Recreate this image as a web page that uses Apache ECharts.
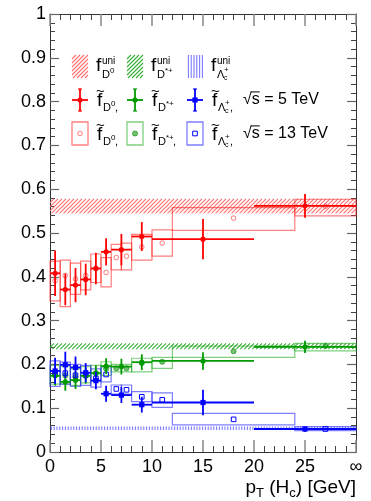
<!DOCTYPE html>
<html><head><meta charset="utf-8">
<script src="https://cdn.jsdelivr.net/npm/echarts@6/dist/echarts.min.js"></script>
<style>html,body{margin:0;padding:0;background:#fff}#c{width:371px;height:501px}</style>
</head><body><div id="c"></div>
<script>
// pT binning in GeV; the open last bin (to infinity) is drawn up to 30
const bins5Lo = [0, 1, 2, 3, 4, 5, 6, 8, 10, 20];
const bins5Hi = [1, 2, 3, 4, 5, 6, 8, 10, 20, 30];
const pt5 = [0.5, 1.5, 2.5, 3.5, 4.5, 5.5, 7, 9, 15, 25];
const bins13Lo = [0, 1, 2, 3, 4, 5, 6, 7, 8, 10, 12, 24];
const bins13Hi = [1, 2, 3, 4, 5, 6, 7, 8, 10, 12, 24, 30];
const pt13 = [0.5, 1.5, 2.5, 3.5, 4.5, 5.5, 6.5, 7.5, 9, 11, 18, 27];

// sqrt(s) = 5 TeV fractions with total uncertainties
const d0At5 = [0.408, 0.371, 0.381, 0.394, 0.419, 0.457, 0.462, 0.492, 0.486, 0.562];
const d0At5Err = [0.052, 0.036, 0.039, 0.036, 0.036, 0.031, 0.036, 0.033, 0.046, 0.027];
const dstAt5 = [0.174, 0.160, 0.164, 0.174, 0.180, 0.196, 0.195, 0.205, 0.208, 0.240];
const dstAt5Err = [0.022, 0.020, 0.020, 0.018, 0.018, 0.018, 0.018, 0.018, 0.020, 0.014];
const lcAt5 = [0.185, 0.199, 0.193, 0.181, 0.163, 0.133, 0.130, 0.108, 0.113, 0.0525];
const lcAt5Err = [0.030, 0.030, 0.025, 0.022, 0.020, 0.018, 0.018, 0.018, 0.029, 0.006];

// sqrt(s) = 13 TeV fractions, boxes give the uncertainty range
const d0At13 = [0.391, 0.403, 0.395, 0.403, 0.420, 0.410, 0.444, 0.447, 0.468, 0.477, 0.534, 0.561];
const d0At13Lo = [0.345, 0.332, 0.360, 0.370, 0.387, 0.377, 0.416, 0.416, 0.438, 0.447, 0.506, 0.539];
const d0At13Hi = [0.436, 0.438, 0.431, 0.436, 0.452, 0.444, 0.474, 0.477, 0.497, 0.507, 0.558, 0.577];
const dstAt13 = [0.176, 0.175, 0.171, 0.176, 0.180, 0.190, 0.191, 0.191, 0.203, 0.206, 0.230, 0.242];
const dstAt13Lo = [0.155, 0.155, 0.152, 0.158, 0.163, 0.175, 0.183, 0.183, 0.183, 0.191, 0.216, 0.231];
const dstAt13Hi = [0.198, 0.196, 0.190, 0.195, 0.198, 0.206, 0.200, 0.200, 0.214, 0.216, 0.242, 0.248];
const lcAt13 = [0.178, 0.180, 0.175, 0.175, 0.168, 0.177, 0.144, 0.142, 0.126, 0.119, 0.0746, 0.0525];
const lcAt13Lo = [0.150, 0.155, 0.150, 0.152, 0.148, 0.160, 0.132, 0.132, 0.115, 0.102, 0.062, 0.049];
const lcAt13Hi = [0.208, 0.205, 0.200, 0.198, 0.190, 0.195, 0.153, 0.153, 0.138, 0.135, 0.088, 0.058];

// pT-integrated (universal) fractions, bands over the full range
const uniD0 = [0.545, 0.578];
const uniDst = [0.235, 0.248];
const uniLc = [0.050, 0.058];

const xTicks = [0, 5, 10, 15, 20, 25, 30];
const xTickText = ['0', '5', '10', '15', '20', '25', '\u221e'];

const FONT = '"Liberation Sans", Arial, Helvetica, sans-serif';
const RED = '#ff0000', GREEN = '#009a00', BLUE = '#0000ff';
const RED_L = 'rgba(255,40,40,0.6)', GREEN_L = 'rgba(0,160,0,0.5)', BLUE_L = 'rgba(40,40,255,0.6)';
const HATCH_RED = '#ff7070', HATCH_GREEN = '#3aae3a', HATCH_BLUE = '#7b7bff';

// hatch strokes filling a rectangle (45 degree or vertical), as one path
function hatchPath(x0, y0, w, h, step, color, vertical) {
  const d = [];
  if (vertical) {
    for (let x = x0 + step / 2; x < x0 + w; x += step) d.push('M' + x + ' ' + y0 + 'L' + x + ' ' + (y0 + h));
  } else {
    for (let k = -h; k < w; k += step) {
      let xa = x0 + k, ya = y0 + h, xb = x0 + k + h, yb = y0;
      if (xa < x0) { ya -= (x0 - xa); xa = x0; }
      if (xb > x0 + w) { yb += (xb - (x0 + w)); xb = x0 + w; }
      if (xb > xa) d.push('M' + xa + ' ' + ya + 'L' + xb + ' ' + yb);
    }
  }
  return { type: 'path', silent: true, shape: { pathData: d.join('') }, style: { stroke: color, fill: null, lineWidth: 1.1 } };
}

function marker(kind, cx, cy, color) {
  if (kind === 'dot') return { type: 'circle', shape: { cx, cy, r: 2.6 }, style: { fill: color } };
  if (kind === 'sq') return { type: 'rect', shape: { x: cx - 2.6, y: cy - 2.6, width: 5.2, height: 5.2 }, style: { fill: color } };
  if (kind === 'ring') return { type: 'circle', shape: { cx, cy, r: 2.3 }, style: { fill: 'none', stroke: color, lineWidth: 1 } };
  if (kind === 'star') return { type: 'circle', shape: { cx, cy, r: 2.6 }, style: { fill: 'rgba(0,140,0,0.55)', stroke: 'rgba(0,140,0,0.7)', lineWidth: 0.8 } };
  return { type: 'rect', shape: { x: cx - 2.3, y: cy - 2.3, width: 4.6, height: 4.6 }, style: { fill: 'none', stroke: color, lineWidth: 1 } };
}

function bandSeries(range, color, vertical, step) {
  return {
    type: 'custom', xAxisIndex: 0, yAxisIndex: 0, silent: true, z: 1,
    data: [[0, 30, range[0], range[1]]],
    renderItem(p, api) {
      const a = api.coord([api.value(0), api.value(3)]);
      const b = api.coord([api.value(1), api.value(2)]);
      return hatchPath(a[0], a[1], b[0] - a[0], b[1] - a[1], step, color, vertical);
    }
  };
}

function boxSeries(vals, lo, hi, color, mk, mkColor) {
  return {
    type: 'custom', xAxisIndex: 0, yAxisIndex: 0, silent: true, z: 2,
    data: vals.map((v, i) => [pt13[i], v, bins13Lo[i], bins13Hi[i], lo[i], hi[i]]),
    renderItem(p, api) {
      const a = api.coord([api.value(2), api.value(5)]);
      const b = api.coord([api.value(3), api.value(4)]);
      const c = api.coord([api.value(0), api.value(1)]);
      return { type: 'group', children: [
        { type: 'rect', shape: { x: a[0], y: a[1], width: b[0] - a[0], height: b[1] - a[1] }, style: { fill: 'none', stroke: color, lineWidth: 1.2 } },
        marker(mk, c[0], c[1], mkColor)
      ] };
    }
  };
}

function errSeries(vals, err, color, mk) {
  return {
    type: 'custom', xAxisIndex: 0, yAxisIndex: 0, silent: true, z: 3,
    data: vals.map((v, i) => [pt5[i], v, bins5Lo[i], bins5Hi[i], v - err[i], v + err[i]]),
    renderItem(p, api) {
      const c = api.coord([api.value(0), api.value(1)]);
      const l = api.coord([api.value(2), api.value(1)]);
      const r = api.coord([api.value(3), api.value(1)]);
      const t = api.coord([api.value(0), api.value(5)]);
      const b = api.coord([api.value(0), api.value(4)]);
      return { type: 'group', children: [
        { type: 'line', shape: { x1: l[0], y1: c[1], x2: r[0], y2: c[1] }, style: { stroke: color, lineWidth: 1.8 } },
        { type: 'line', shape: { x1: c[0], y1: t[1], x2: c[0], y2: b[1] }, style: { stroke: color, lineWidth: 1.8 } },
        marker(mk, c[0], c[1], color)
      ] };
    }
  };
}

// hatched swatches of the legend's first row, in pixel space, one item each
const swatchDefs = [[72, HATCH_RED, false, 4], [127, HATCH_GREEN, false, 4], [187, HATCH_BLUE, true, 2.8]];
const legendSwatches = {
  type: 'custom', coordinateSystem: 'none', silent: true, z: 5,
  data: [[0], [1], [2]],
  renderItem(p) {
    const [x, col, vert, step] = swatchDefs[p.dataIndex];
    return hatchPath(x, 55, 16, 23, step, col, vert);
  }
};

// legend text and axis title drawn as graphic elements
const g = [];
function txt(x, y, s, size, extra) {
  g.push(Object.assign({ type: 'text', x, y, silent: true,
    style: Object.assign({ text: s, font: size + 'px ' + FONT, fill: '#000', align: 'left', verticalAlign: 'middle' }, extra || {}) }));
}
function fTilde(x, y) { txt(x, y, 'f', 19); txt(x - 1, y - 9, '~', 15); }
function subD0(x, y, comma) { txt(x, y, 'D', 11); txt(x + 8, y - 4, '0', 8); if (comma) txt(x + 12, y, ',', 11); }
function subDst(x, y, comma) { txt(x, y, 'D', 11); txt(x + 8, y - 4, '*+', 8); if (comma) txt(x + 15, y, ',', 11); }
function subLc(x, y, comma) { txt(x, y, '\u039b', 11); txt(x + 7, y + 3, 'c', 7); txt(x + 7, y - 5, '+', 8); if (comma) txt(x + 12, y, ',', 11); }

// "sqrt(s) = ..." with the radical's bar carried over the s
const meas = document.createElement('canvas').getContext('2d');
function sqrtS(x, y, rest) {
  const size = 16;
  txt(x, y, '\u221as' + rest, size);
  meas.font = size + 'px ' + FONT;
  meas.textBaseline = 'middle';
  const m = meas.measureText('\u221a');
  const sw = meas.measureText('s').width;
  const top = y - m.actualBoundingBoxAscent + 0.5;
  g.push({ type: 'line', silent: true, shape: { x1: x + m.width - 1, y1: top, x2: x + m.width + sw, y2: top }, style: { stroke: '#000', lineWidth: 1 } });
}

// row 1: universal fractions
[[72, subD0], [127, subDst], [187, subLc]].forEach(([x, sub]) => {
  txt(x + 24, 66, 'f', 19);
  txt(x + 30, 61, 'uni', 10);
  sub(x + 30, 75, false);
});
// row 2: 5 TeV
[[80, RED, 'dot', subD0, true], [135, GREEN, 'dot', subDst, false], [195, BLUE, 'sq', subLc, true]].forEach(([x, col, mk, sub, comma]) => {
  g.push({ type: 'line', silent: true, shape: { x1: x - 8, y1: 100, x2: x + 8, y2: 100 }, style: { stroke: col, lineWidth: 1.8 } });
  g.push({ type: 'line', silent: true, shape: { x1: x, y1: 89, x2: x, y2: 111 }, style: { stroke: col, lineWidth: 1.8 } });
  g.push({ type: 'line', silent: true, shape: { x1: x - 2, y1: 89, x2: x + 2, y2: 89 }, style: { stroke: col, lineWidth: 1.2 } });
  g.push({ type: 'line', silent: true, shape: { x1: x - 2, y1: 111, x2: x + 2, y2: 111 }, style: { stroke: col, lineWidth: 1.2 } });
  g.push(Object.assign({ silent: true }, marker(mk, x, 100, col)));
  fTilde(x + 17, 101);
  sub(x + 23, 108, comma);
});
sqrtS(243, 100, ' = 5 TeV');
// row 3: 13 TeV
[[80, RED_L, 'ring', RED_L, subD0], [135, GREEN_L, 'star', GREEN_L, subDst], [195, BLUE_L, 'open', BLUE, subLc]].forEach(([x, col, mk, mcol, sub]) => {
  g.push({ type: 'rect', silent: true, shape: { x: x - 8, y: 122, width: 16, height: 23 }, style: { fill: 'none', stroke: col, lineWidth: 1.3 } });
  g.push(Object.assign({ silent: true }, marker(mk, x, 133.5, mcol)));
  fTilde(x + 17, 135);
  sub(x + 23, 142, true);
});
sqrtS(243, 134, ' = 13 TeV');
// axis title
g.push({ type: 'text', silent: true, x: 356, y: 488, style: {
  text: '{m|p}{s|T}{m| (H}{s|c}{m|) [GeV]}', align: 'right', verticalAlign: 'middle',
  rich: { m: { font: '19px ' + FONT, fill: '#000', verticalAlign: 'middle' },
          s: { font: '13px ' + FONT, fill: '#000', padding: [11, 0, 0, 0], verticalAlign: 'middle' } } } });

const axisCommon = {
  type: 'value', min: 0, max: 30, interval: 5,
  axisLine: { show: true, onZero: false, lineStyle: { color: '#333', width: 1 } },
  splitLine: { show: false },
  minorTick: { show: true, splitNumber: 5, length: 6, lineStyle: { color: '#444', width: 1 } },
  axisTick: { show: true, inside: true, length: 12, lineStyle: { color: '#888', width: 1.5 } }
};
const yCommon = {
  type: 'value', min: 0, max: 1, interval: 0.1,
  axisLine: { show: true, onZero: false, lineStyle: { color: '#333', width: 1 } },
  splitLine: { show: false },
  minorTick: { show: true, splitNumber: 5, length: 5, lineStyle: { color: '#444', width: 1 } },
  axisTick: { show: true, inside: true, length: 9, lineStyle: { color: '#666', width: 1.2 } }
};

const option = {
  animation: false,
  backgroundColor: '#fff',
  grid: { left: 50, right: 15, top: 14, bottom: 49, containLabel: false },
  xAxis: [
    Object.assign({}, axisCommon, { position: 'bottom',
      axisLabel: { show: true, margin: 6, fontFamily: FONT, fontSize: 18, color: '#000',
        formatter: v => xTickText[xTicks.indexOf(v)] } }),
    Object.assign({}, axisCommon, { position: 'top', axisLabel: { show: false } })
  ],
  yAxis: [
    Object.assign({}, yCommon, { position: 'left',
      axisLabel: { show: true, margin: 4, fontFamily: FONT, fontSize: 18, color: '#000',
        formatter: v => (v === 0 ? '0' : v >= 0.999 ? '1' : v.toFixed(1)) } }),
    Object.assign({}, yCommon, { position: 'right', axisLabel: { show: false } })
  ],
  graphic: g,
  series: [
    bandSeries(uniD0, HATCH_RED, false, 4),
    bandSeries(uniDst, HATCH_GREEN, false, 4),
    bandSeries(uniLc, HATCH_BLUE, true, 2.8),
    boxSeries(d0At13, d0At13Lo, d0At13Hi, RED_L, 'ring', RED_L),
    boxSeries(dstAt13, dstAt13Lo, dstAt13Hi, GREEN_L, 'star', GREEN_L),
    boxSeries(lcAt13, lcAt13Lo, lcAt13Hi, BLUE_L, 'open', BLUE),
    errSeries(d0At5, d0At5Err, RED, 'dot'),
    errSeries(dstAt5, dstAt5Err, GREEN, 'dot'),
    errSeries(lcAt5, lcAt5Err, BLUE, 'sq'),
    legendSwatches
  ]
};
const chart = echarts.init(document.getElementById('c'), null, { renderer: 'canvas' });
chart.setOption(option);
</script></body></html>
